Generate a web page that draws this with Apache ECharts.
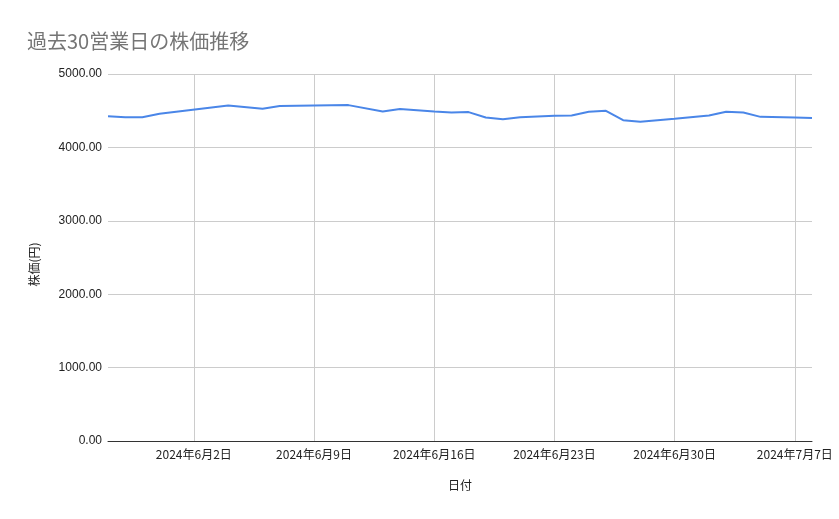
<!DOCTYPE html>
<html style="height: 100%">
<head>
<meta charset="utf-8" />
<title>過去30営業日の株価推移</title>
<script type="text/javascript" src="https://cdn.jsdelivr.net/npm/echarts@6/dist/echarts.min.js"></script>
</head>
<body style="height: 100%; margin: 0; background: #fff;">
<div id="container" style="width: 839px; height: 519px;"></div>
<script type="text/javascript">
// 日付と株価
var dates = [
    '2024-05-28', '2024-05-29', '2024-05-30', '2024-05-31', '2024-06-04',
    '2024-06-06', '2024-06-07', '2024-06-09', '2024-06-11', '2024-06-13',
    '2024-06-14', '2024-06-16', '2024-06-17', '2024-06-18', '2024-06-19',
    '2024-06-20', '2024-06-21', '2024-06-23', '2024-06-24', '2024-06-25',
    '2024-06-26', '2024-06-27', '2024-06-28', '2024-06-30', '2024-07-02',
    '2024-07-03', '2024-07-04', '2024-07-05', '2024-07-07', '2024-07-08'
];
var prices = [
    4426, 4412, 4412, 4457, 4572,
    4526, 4563, 4572, 4576, 4490,
    4522, 4490, 4476, 4481, 4408,
    4385, 4412, 4430, 4436, 4485,
    4498, 4371, 4348, 4389, 4436,
    4485, 4476, 4416, 4408, 4399
];
var tickDates = ['2024-06-02', '2024-06-09', '2024-06-16', '2024-06-23', '2024-06-30', '2024-07-07'];
var yTicks = [0, 1000, 2000, 3000, 4000, 5000];

function toTime(s) {
    var p = s.split('-');
    return new Date(+p[0], +p[1] - 1, +p[2]).getTime();
}

var points = [];
for (var i = 0; i < dates.length; i++) {
    points.push([toTime(dates[i]), prices[i]]);
}
var tickTimes = tickDates.map(toTime);

var myChart = echarts.init(document.getElementById('container'));
var option = {
    animation: false,
    title: {
        text: '過去30営業日の株価推移',
        left: 22,
        top: 26,
        textStyle: {
            fontFamily: 'Noto Sans CJK JP',
            fontSize: 20,
            fontWeight: 'normal',
            color: '#757575'
        }
    },
    grid: {
        left: 108,
        right: 27,
        top: 74,
        bottom: 78
    },
    xAxis: {
        type: 'value',
        min: toTime(dates[0]),
        max: toTime(dates[dates.length - 1]),
        name: '日付',
        nameLocation: 'middle',
        nameGap: 38,
        nameTextStyle: {
            fontFamily: 'Noto Sans CJK JP',
            fontSize: 12,
            color: '#222'
        },
        axisLine: { lineStyle: { color: '#333', width: 1 } },
        axisTick: { show: false, customValues: tickTimes },
        splitLine: { show: true, customValues: tickTimes, lineStyle: { color: '#cccccc', width: 1 } },
        axisLabel: {
            customValues: tickTimes,
            margin: 7,
            fontFamily: 'Noto Sans CJK JP',
            fontSize: 12,
            color: '#222',
            formatter: function (v) {
                var d = new Date(v);
                return d.getFullYear() + '年' + (d.getMonth() + 1) + '月' + d.getDate() + '日';
            }
        }
    },
    yAxis: {
        type: 'value',
        min: yTicks[0],
        max: yTicks[yTicks.length - 1],
        interval: 1000,
        name: '株価(円)',
        nameLocation: 'middle',
        nameGap: 68,
        nameTextStyle: {
            fontFamily: 'Noto Sans CJK JP',
            fontSize: 12,
            color: '#222',
            padding: [0, 0, 0, -14]
        },
        axisLine: { show: false },
        axisTick: { show: false },
        splitLine: { lineStyle: { color: '#cccccc', width: 1 } },
        axisLabel: {
            margin: 6,
            fontFamily: 'Liberation Sans',
            fontSize: 12,
            color: '#222',
            formatter: function (v) { return v.toFixed(2); }
        }
    },
    series: [
        {
            name: '株価',
            type: 'line',
            data: points,
            showSymbol: false,
            lineStyle: { color: '#4a86e8', width: 2 },
            itemStyle: { color: '#4a86e8' }
        }
    ]
};
myChart.setOption(option);
</script>
</body>
</html>
